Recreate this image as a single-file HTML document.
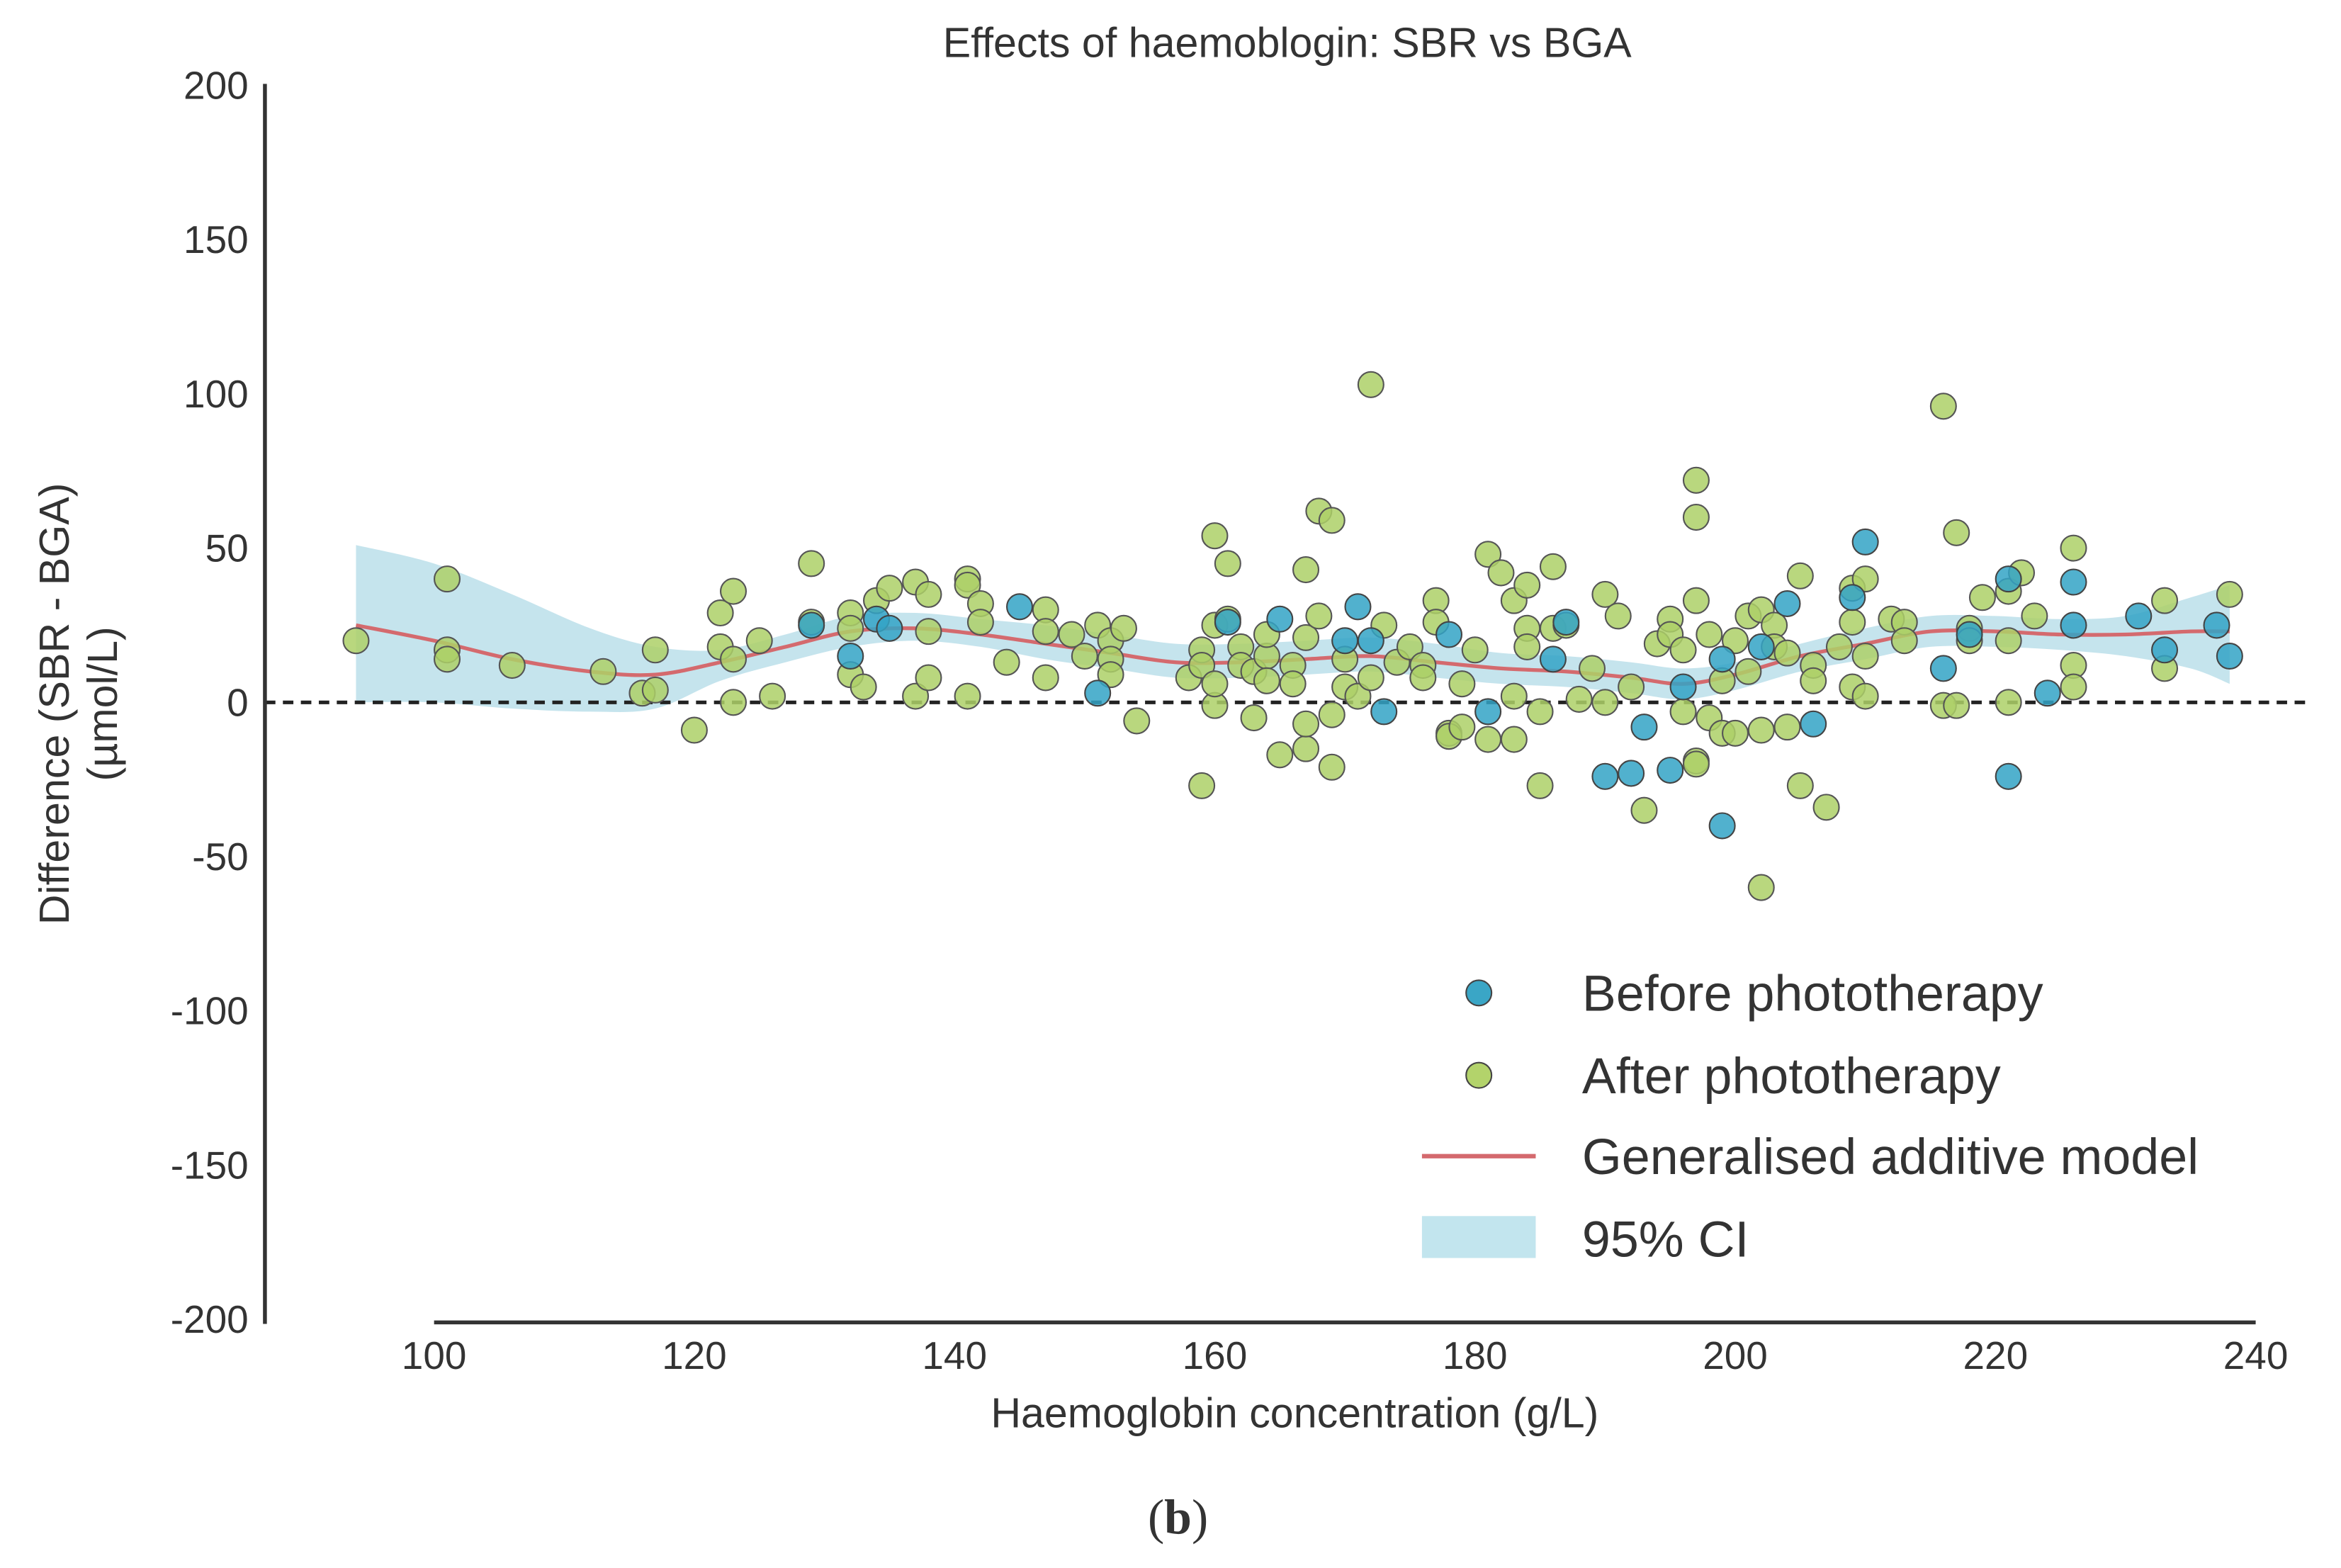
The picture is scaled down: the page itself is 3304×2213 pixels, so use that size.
<!DOCTYPE html>
<html><head><meta charset="utf-8"><style>
html,body{margin:0;padding:0;background:#fff}
svg{display:block}
text{font-family:"Liberation Sans",sans-serif;fill:#333}
</style></head><body>
<svg id="chart" width="3304" height="2213" viewBox="0 0 1564 1047" preserveAspectRatio="none" xmlns="http://www.w3.org/2000/svg">
<rect width="1564" height="1047" fill="#fff"/>
<text x="860" y="38" font-size="28" text-anchor="middle">Effects of haemoblogin: SBR vs BGA</text>
<g id="ci"></g>
<line x1="177" x2="1545" y1="469" y2="469" stroke="#222" stroke-width="2.4" stroke-dasharray="7,5"/>
<g id="gam"></g>
<g id="pts"></g>
<line x1="177" x2="177" y1="56" y2="884" stroke="#333" stroke-width="2.6"/>
<line x1="290" x2="1507" y1="883" y2="883" stroke="#333" stroke-width="2.6"/>
<g id="yt"></g>
<g id="xt"></g>
<text x="865" y="953" font-size="28" text-anchor="middle">Haemoglobin concentration (g/L)</text>
<g transform="translate(46,470) rotate(-90)">
<text x="0" y="0" font-size="28" text-anchor="middle">Difference (SBR - BGA)</text>
<text x="0" y="32" font-size="28" text-anchor="middle">(µmol/L)</text>
</g>
<g>
<circle cx="988" cy="663" r="8.5" fill="#3aa6c6" stroke="#444" stroke-width="1"/>
<text x="1057" y="675" font-size="34">Before phototherapy</text>
<circle cx="988" cy="718" r="8.5" fill="#b3d36b" stroke="#444" stroke-width="1"/>
<text x="1057" y="730" font-size="34">After phototherapy</text>
<line x1="950" x2="1026" y1="772" y2="772" stroke="#d46a6e" stroke-width="3"/>
<text x="1057" y="784" font-size="34">Generalised additive model</text>
<rect x="950" y="812" width="76" height="28" fill="#c2e5ee"/>
<text x="1057" y="839" font-size="34">95% CI</text>
</g>
<text x="787" y="1024" font-size="33" text-anchor="middle" style="font-family:'Liberation Serif',serif">(<tspan font-weight="bold">b</tspan>)</text>
</svg>
<script>
const yTicks=[200,150,100,50,0,-50,-100,-150,-200];
const xTicks=[100,120,140,160,180,200,220,240];
const beforeX=[132,134,135,145,151,165,171,172,173,178,181,186,187,190,192,193,195,196,199,199,202,204,206,209,210,216,218,221,221,224,226,226,231,233,237,238,129,161,170];
const beforeY=[15,27,24,31,3,27,31,20,-3,22,-3,14,26,-24,-23,-8,-22,5,-40,14,18,32,-7,34,52,11,22,40,-24,3,39,25,28,17,25,15,25,26,20];
const afterX=[94,101,101,101,106,113,116,117,117,120,122,123,122,123,123,125,126,129,129,132,132,132,133,134,135,137,137,138,138,138,141,141,141,142,142,144,147,147,147,149,150,151,152,152,152,153,154,158,159,159,159,160,160,160,160,161,161,162,162,163,163,164,164,164,165,166,166,167,167,167,167,168,168,169,169,169,170,170,171,172,172,173,174,175,176,176,177,177,178,178,179,179,180,181,181,182,183,183,183,184,184,184,185,185,186,186,187,188,189,190,190,191,192,193,194,195,195,196,196,197,197,197,197,197,198,198,199,199,200,200,201,201,202,202,202,203,203,204,204,205,205,206,206,207,208,209,209,209,210,210,210,212,213,213,216,216,217,217,218,218,219,221,221,221,222,223,226,226,226,233,233,238];
const afterY=[20,40,17,14,12,10,3,4,17,-9,29,36,18,0,14,20,2,45,26,29,24,9,5,33,37,39,2,8,35,23,40,38,2,32,26,13,30,23,8,22,15,25,20,14,9,24,-6,8,-27,17,12,54,25,-1,6,45,27,18,12,-5,10,15,22,7,-17,12,6,43,-15,-7,21,62,28,59,-21,-4,5,14,2,103,8,25,13,18,12,8,33,26,-10,-11,-8,6,17,-12,48,42,-12,2,33,38,24,18,-3,-27,44,24,25,1,11,35,0,28,5,-35,19,27,22,17,-3,72,60,33,-19,-20,22,-5,-10,7,20,-10,28,10,30,-9,-60,25,18,-8,16,-27,41,12,7,-34,18,37,26,5,40,15,2,27,26,20,96,-1,55,-1,24,20,34,36,20,0,42,28,50,12,5,33,11,35];
const gamX=[94,100,106,112,117,122,127,132,137,142,147,152,157,162,167,172,177,182,187,192,196,200,205,210,215,220,225,230,235,238];
const gamY=[25,20,14,10,9,13,18,23,24,22,19,16,13,13,14,15,13,11,10,8,6,9,15,19,23,23,22,22,23,23];
const ciUpper=[51,45,35,24,18,17,22,28,29,27,25,22,19,19,20,21,19,16,15,13,11,13,19,24,28,28,27,28,34,38];
const ciLower=[0,0,-2,-3,-2,7,13,18,20,18,14,11,8,8,9,10,8,6,5,3,1,4,10,14,18,18,17,15,11,6];
const NS="http://www.w3.org/2000/svg";
const xs=v=>290+(v-100)*(1507-290)/140;
const ys=v=>469-(v)*(469-57)/200;
function mk(t,a,p){const e=document.createElementNS(NS,t);for(const k in a)e.setAttribute(k,a[k]);p.appendChild(e);return e;}
function smooth(P,start){let s=start?('M'+P[0][0]+','+P[0][1]):'';
for(let i=0;i<P.length-1;i++){const p0=P[i-1]||P[i],p1=P[i],p2=P[i+1],p3=P[i+2]||p2;
if(!start&&i===0)s+='L'+p1[0]+','+p1[1];
s+='C'+(p1[0]+(p2[0]-p0[0])/6)+','+(p1[1]+(p2[1]-p0[1])/6)+' '+(p2[0]-(p3[0]-p1[0])/6)+','+(p2[1]-(p3[1]-p1[1])/6)+' '+p2[0]+','+p2[1];}
return s;}
const yt=document.getElementById('yt');
yTicks.forEach(v=>{const t=mk('text',{x:166,y:ys(v)+9,'font-size':26,'text-anchor':'end'},yt);t.textContent=v;

});
const xt=document.getElementById('xt');
xTicks.forEach(v=>{const t=mk('text',{x:xs(v),y:914,'font-size':26,'text-anchor':'middle'},xt);t.textContent=v;

});
const up=gamX.map((x,i)=>[xs(x),ys(ciUpper[i])]);
const lo=gamX.map((x,i)=>[xs(x),ys(ciLower[i])]).reverse();
const ci=mk('path',{d:smooth(up,true)+smooth(lo,false)+'Z',fill:'#add8e6','fill-opacity':0.7},document.getElementById('ci'));


const gl=mk('path',{d:smooth(gamX.map((x,i)=>[xs(x),ys(gamY[i])]),true),fill:'none',stroke:'#d46a6e','stroke-width':2.5},document.getElementById('gam'));


const pts=document.getElementById('pts');
afterX.forEach((x,i)=>{const c=mk('circle',{cx:xs(x),cy:ys(afterY[i]),r:8.5,fill:'#add067','fill-opacity':0.85,stroke:'#555','stroke-width':1},pts);

});
beforeX.forEach((x,i)=>{const c=mk('circle',{cx:xs(x),cy:ys(beforeY[i]),r:8.5,fill:'#33a3c5','fill-opacity':0.85,stroke:'#444','stroke-width':1},pts);

});
</script>
</body></html>
